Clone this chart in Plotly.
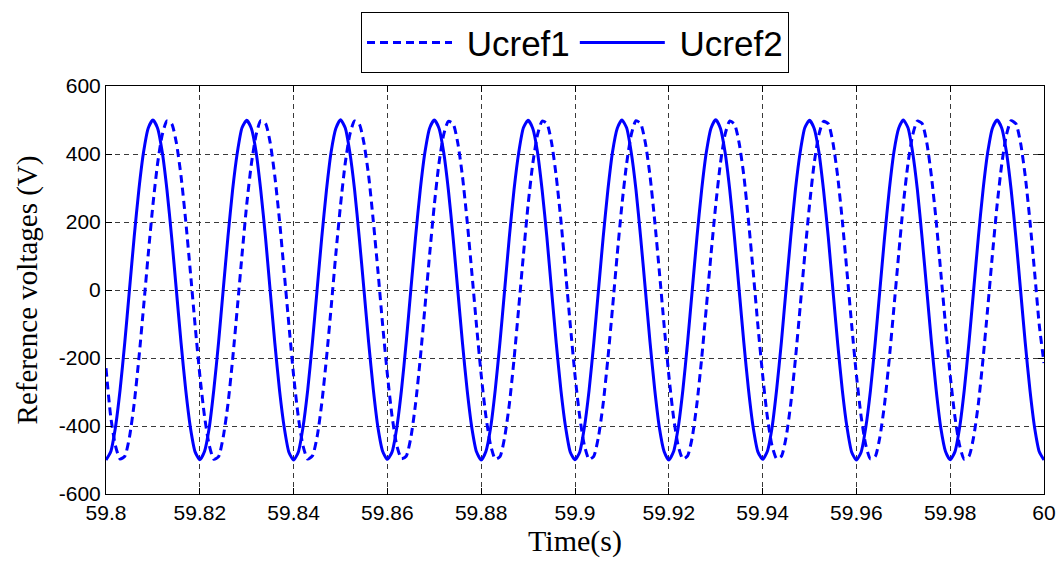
import plotly.graph_objects as go

# time axis: 59.800 s .. 60.000 s, one sample per millisecond
t_ms = list(range(0, 201))
time_s = [59.8 + k / 1000.0 for k in t_ms]

x_ticks = [59.8, 59.82, 59.84, 59.86, 59.88, 59.9, 59.92, 59.94, 59.96, 59.98, 60]
x_tick_labels = ["59.8", "59.82", "59.84", "59.86", "59.88", "59.9", "59.92", "59.94", "59.96", "59.98", "60"]
y_ticks = [-600, -400, -200, 0, 200, 400, 600]
y_tick_labels = ["-600", "-400", "-200", "0", "200", "400", "600"]

# Ucref1 (dashed), values, 1 ms steps
ucref1 = [
    -230, -372, -457, -497, -489, -433, -335, -203, -52, 104, 250, 372, 457, 497, 489, 433, 335, 203, 52, -104,
    -250, -371, -456, -498, -490, -432, -336, -204, -53, 103, 251, 371, 456, 498, 490, 434, 334, 204, 51, -103,
    -251, -373, -458, -497, -488, -433, -334, -202, -52, 105, 249, 372, 458, 497, 488, 432, 336, 202, 53, -105,
    -249, -372, -457, -496, -489, -434, -335, -203, -51, 104, 250, 373, 457, 496, 489, 433, 335, 203, 52, -104,
    -250, -371, -456, -497, -490, -433, -336, -204, -52, 103, 251, 372, 456, 497, 490, 434, 334, 204, 51, -103,
    -251, -372, -457, -498, -489, -432, -335, -203, -53, 104, 250, 371, 457, 498, 489, 433, 335, 203, 52, -104,
    -250, -373, -458, -497, -488, -433, -334, -202, -52, 105, 249, 372, 458, 497, 488, 432, 336, 202, 53, -105,
    -249, -372, -457, -496, -489, -434, -335, -203, -51, 104, 250, 373, 457, 496, 489, 433, 335, 203, 52, -104,
    -250, -371, -456, -497, -490, -433, -336, -204, -52, 103, 251, 372, 456, 497, 490, 434, 334, 204, 51, -103,
    -251, -372, -457, -498, -489, -432, -335, -203, -53, 104, 250, 371, 457, 498, 489, 433, 335, 203, 52, -104,
    -215,
]

# Ucref2 (solid), values, 1 ms steps
ucref2 = [
    -500, -476, -405, -294, -155, 0, 155, 294, 405, 476, 500, 476, 405, 294, 155, 0, -155, -294, -405, -476,
    -499, -475, -406, -292, -154, 2, 156, 295, 404, 477, 499, 475, 406, 293, 156, -1, -156, -295, -404, -477,
    -500, -477, -404, -295, -156, -1, 154, 293, 406, 475, 501, 477, 404, 295, 154, 1, -154, -293, -406, -475,
    -498, -476, -405, -294, -155, 1, 155, 294, 405, 476, 500, 476, 405, 294, 155, 0, -155, -294, -405, -476,
    -500, -475, -406, -293, -154, 0, 156, 295, 404, 477, 499, 475, 406, 293, 156, -1, -156, -295, -404, -477,
    -499, -477, -404, -295, -156, -1, 154, 293, 406, 475, 500, 477, 404, 295, 154, 1, -154, -293, -406, -475,
    -500, -476, -405, -294, -155, 0, 155, 294, 405, 476, 501, 476, 405, 294, 155, 0, -155, -294, -405, -476,
    -498, -475, -406, -292, -154, 2, 156, 295, 404, 477, 499, 475, 406, 293, 156, -1, -156, -295, -404, -477,
    -500, -477, -404, -295, -156, -1, 154, 293, 406, 475, 500, 477, 404, 295, 154, 1, -154, -293, -406, -475,
    -499, -476, -405, -294, -155, 0, 155, 294, 405, 476, 500, 476, 405, 294, 155, 0, -155, -294, -405, -476,
    -500,
]

BLUE = "#0000ff"

fig = go.Figure()
fig.add_trace(go.Scatter(
    x=time_s, y=ucref1, mode="lines", name=" Ucref1",
    line=dict(color=BLUE, width=3, dash="8px,5px", shape="spline", smoothing=0.6),
))
fig.add_trace(go.Scatter(
    x=time_s, y=ucref2, mode="lines", name=" Ucref2",
    line=dict(color=BLUE, width=3, shape="spline", smoothing=0.6),
))

axis_common = dict(
    showline=True, linecolor="black", linewidth=1, mirror="ticks",
    ticks="inside", ticklen=6, tickcolor="black",
    showgrid=True, gridcolor="#3a3a3a", gridwidth=1, griddash="5px,4px",
    zeroline=False, automargin=False,
    tickfont=dict(family="Liberation Sans, Arial, sans-serif", size=21, color="black"),
)

fig.update_xaxes(
    range=[59.8, 60], tickmode="array", tickvals=x_ticks, ticktext=x_tick_labels,
    title=dict(text="Time(s)", font=dict(family="Liberation Serif, Times New Roman, serif", size=30, color="black"), standoff=2),
    **axis_common,
)
fig.update_yaxes(
    range=[-600, 600], tickmode="array", tickvals=y_ticks, ticktext=y_tick_labels,
    title=dict(text="Reference voltages (V)", font=dict(family="Liberation Serif, Times New Roman, serif", size=29, color="black"), standoff=12),
    **axis_common,
)

fig.update_layout(
    width=1061, height=561,
    margin=dict(l=106, r=17, t=86, b=67, autoexpand=False),
    paper_bgcolor="white", plot_bgcolor="white",
    showlegend=True,
    legend=dict(
        orientation="h", x=0.5, xanchor="center", y=1.181, yanchor="top",
        bgcolor="white", bordercolor="black", borderwidth=1,
        font=dict(family="Liberation Sans, Arial, sans-serif", size=35, color="black"),
        itemwidth=85, tracegroupgap=0,
    ),
)

fig.write_html(
    "out.html",
    config={"displayModeBar": False},
    post_script="document.body.style.margin='0';document.body.style.overflow='hidden';",
)
